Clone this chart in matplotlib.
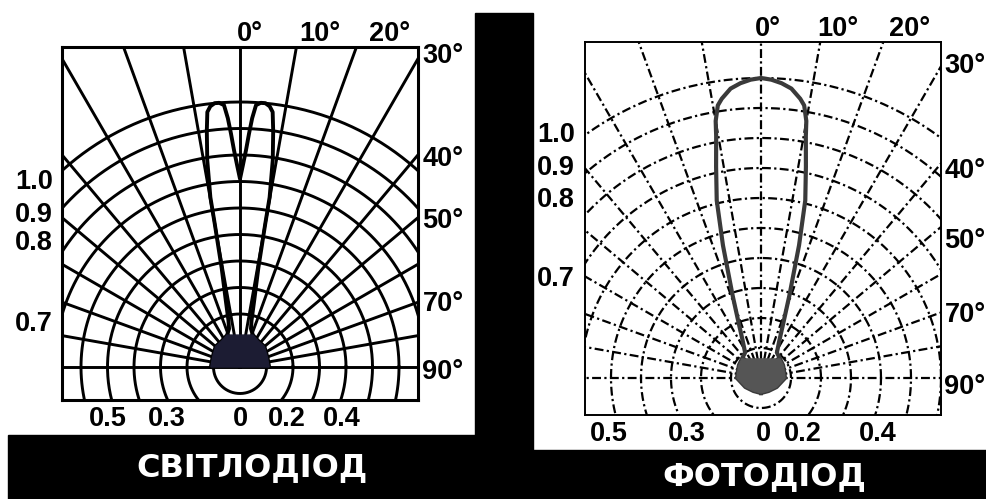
import numpy as np
import matplotlib.pyplot as plt
from matplotlib.patches import Rectangle

W, H = 987, 499

# grid of the radiation diagram
arc_radii = [0.1, 0.2, 0.3, 0.4, 0.5, 0.6, 0.7, 0.8, 0.9, 1.0]
ray_angles = [-90, -80, -70, -60, -50, -40, -30, -20, -10, 0,
              10, 20, 30, 40, 50, 60, 70, 80, 90]

# LED pattern (angle in degrees, relative intensity)
led_angles = [-90, -70, -50, -35, -22, -16, -14, -12, -10.5, -10, -9.9, -9, -8,
              -7.3, -6.5, -5.5, -4.5, -3.5, -2.8, -2.2, -1.6, -0.8, 0,
              0.8, 1.6, 2.2, 2.8, 3.5, 4.5, 5.5, 6.5, 7.3, 8, 9, 9.9, 10,
              10.5, 12, 14, 16, 22, 35, 50, 70, 90]
led_values = [0.11, 0.11, 0.12, 0.12, 0.13, 0.15, 0.18, 0.26, 0.38, 0.55, 0.65, 0.79, 0.90,
              0.97, 0.99, 1.0, 1.0, 0.99, 0.94, 0.88, 0.82, 0.76, 0.71,
              0.76, 0.82, 0.88, 0.94, 0.99, 1.0, 1.0, 0.99, 0.97, 0.90, 0.79, 0.65, 0.55,
              0.38, 0.26, 0.18, 0.15, 0.13, 0.12, 0.12, 0.11, 0.11]

# photodiode pattern
pd_angles = [-180, -150, -120, -90, -75, -60, -45, -32, -26, -22, -19, -16, -14, -12,
             -10.5, -10, -9, -8, -6, -4, -2, 0, 2, 4, 6, 8, 9, 10, 10.5, 12, 14, 16, 19, 22,
             26, 32, 45, 60, 75, 90, 120, 150, 180]
pd_values = [0.05, 0.05, 0.06, 0.08, 0.08, 0.085, 0.09, 0.10, 0.14, 0.20, 0.29, 0.46, 0.61, 0.72,
             0.82, 0.87, 0.92, 0.94, 0.97, 0.985, 0.995, 1.0, 0.995, 0.985, 0.97, 0.94, 0.92, 0.87,
             0.82, 0.72, 0.61, 0.46, 0.29, 0.20,
             0.14, 0.10, 0.09, 0.085, 0.08, 0.08, 0.06, 0.05, 0.05]

top_labels = ["0°", "10°", "20°"]
side_labels = ["30°", "40°", "50°", "70°", "90°"]
left_labels = ["1.0", "0.9", "0.8", "0.7"]
bottom_labels = ["0.5", "0.3", "0", "0.2", "0.4"]
titles = ["СВІТЛОДІОД", "ФОТОДІОД"]

fig = plt.figure(figsize=(W / 100, H / 100), dpi=100)
fig.patch.set_facecolor("white")

# black background pieces of the scanned page
for (x0, y0, x1, y1) in [(475, 13, 533, 499), (8, 435, 475, 499), (533, 450, 987, 499)]:
    fig.patches.append(Rectangle((x0 / W, 1 - y1 / H), (x1 - x0) / W, (y1 - y0) / H,
                                 transform=fig.transFigure, color="black", zorder=0))


def px_text(x, y, s, **kw):
    fig.text(x / W, 1 - y / H, s, ha="center", va="center",
             family=["Liberation Sans", "DejaVu Sans"], fontweight="bold",
             fontsize=19.5, color="black", **kw)


def diagram(box, origin, R, grid_style, grid_lw, spine_lw):
    x0, y0, x1, y1 = box
    ox, oy = origin
    ax = fig.add_axes([x0 / W, 1 - y1 / H, (x1 - x0) / W, (y1 - y0) / H])
    ax.set_xlim((x0 - ox) / R, (x1 - ox) / R)
    ax.set_ylim((oy - y1) / R, (oy - y0) / R)
    ax.set_xticks([])
    ax.set_yticks([])
    for s in ax.spines.values():
        s.set_linewidth(spine_lw)
    t = np.linspace(0, 2 * np.pi, 400)
    for r in arc_radii:
        ax.plot(r * np.cos(t), r * np.sin(t), color="black", lw=grid_lw, ls=grid_style)
    for a in ray_angles:
        th = np.radians(a)
        ax.plot([0, 3 * np.sin(th)], [0, 3 * np.cos(th)], color="black", lw=grid_lw, ls=grid_style)
    return ax


# left: LED
axl = diagram((62, 47, 418, 400), (240, 367), 265, "-", 2.1, 2.2)
th = np.radians(led_angles)
r = np.array(led_values)
axl.plot(r * np.sin(th), r * np.cos(th), color="black", lw=2.8, solid_joinstyle="round")
m = np.abs(np.array(led_angles)) >= 22
axl.fill(r[m] * np.sin(th[m]), r[m] * np.cos(th[m]), color="#1c1c33", zorder=3)

# right: photodiode
dashdot = (0, (4, 1.5, 1, 1.5))
axr = diagram((585, 42, 941, 415), (761, 378), 300, dashdot, 1.6, 1.4)
th = np.radians(pd_angles)
r = np.array(pd_values)
axr.plot(r * np.sin(th), r * np.cos(th), color="#3a3a3a", lw=3.0, solid_joinstyle="round")
m = np.abs(np.array(pd_angles)) >= 45
axr.fill(r[m] * np.sin(th[m]), r[m] * np.cos(th[m]), color="#555555", zorder=3)

# labels, left panel
for s, x in zip(top_labels, [250, 320, 390]):
    px_text(x, 34, s)
for s, y in zip(side_labels, [56, 159, 221, 304, 372]):
    px_text(443, y, s)
for s, y in zip(left_labels, [182, 215, 243, 324]):
    px_text(34, y, s)
for s, x in zip(bottom_labels, [108, 167, 240, 287, 342]):
    px_text(x, 419, s)

# labels, right panel
for s, x in zip(top_labels, [768, 838, 910]):
    px_text(x, 29, s)
for s, y in zip(side_labels, [66, 171, 241, 315, 387]):
    px_text(965, y, s)
for s, y in zip(left_labels, [135, 168, 200, 279]):
    px_text(556, y, s)
for s, x in zip(bottom_labels, [609, 687, 763, 803, 878]):
    px_text(x, 434, s)

for s, x, y in zip(titles, [252, 764], [468, 477]):
    fig.text(x / W, 1 - y / H, s, ha="center", va="center", color="white",
             family="DejaVu Sans", fontweight="bold", fontsize=23)

fig.savefig("out.png", dpi=100, facecolor="white")
